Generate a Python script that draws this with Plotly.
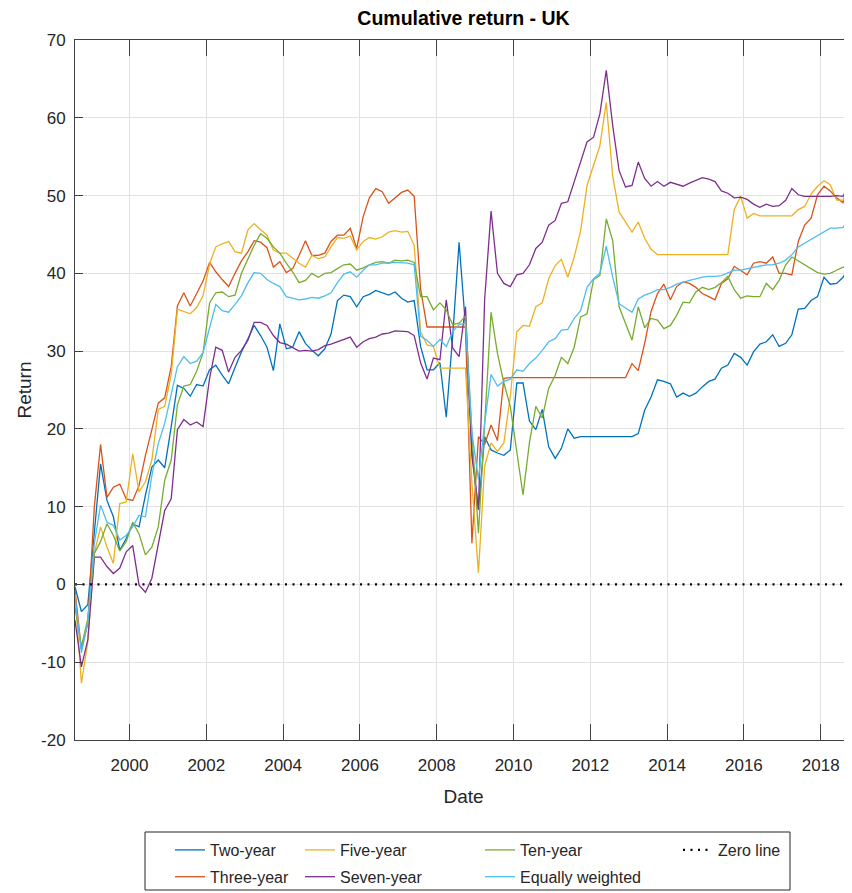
import pandas as pd
import plotly.graph_objects as go

# ---------------- data (bi-monthly readings, Aug 1998 .. Oct 2018) ----------------
dates = pd.date_range("1998-08-01", "2018-10-01", freq="2MS")

two_year = [
    -0.3, -3.5, -2.6,
    6.5, 15.5, 10.8, 8.7, 4.4, 5.9,
    7.8, 7.4, 11.5, 15.1, 16.0, 15.0,
    20.3, 25.6, 25.2, 24.2, 25.7, 25.5,
    27.6, 28.2, 26.9, 25.8, 27.9, 29.9,
    31.6, 33.3, 32.0, 30.5, 27.5, 33.5,
    30.3, 30.5, 32.5, 31.0, 30.1, 29.4,
    30.3, 32.2, 36.5, 37.2, 37.0, 35.7,
    37.0, 37.3, 37.8, 37.5, 37.2, 37.6,
    36.8, 36.3, 36.5, 30.6, 27.6, 27.6,
    28.5, 21.5, 31.9, 44.0, 33.2, 17.3,
    9.6, 19.0, 17.3, 16.9, 16.6, 17.3,
    25.9, 25.9, 21.0, 19.9, 22.5, 17.7,
    16.2, 17.5, 20.0, 18.8, 19.0, 19.0,
    19.0, 19.0, 19.0, 19.0, 19.0, 19.0,
    19.0, 19.4, 22.4, 24.1, 26.3, 26.1,
    25.8, 24.1, 24.6, 24.2, 24.6, 25.4,
    26.1, 26.4, 27.8, 28.2, 29.7, 29.2,
    28.2, 29.9, 30.9, 31.2, 32.1, 30.6,
    31.0, 32.1, 35.4, 35.5, 36.5, 37.0,
    39.5, 38.6, 38.7, 39.5, 40.9,
]

three_year = [
    -0.7, -8.4, -5.0,
    10.0, 18.0, 11.2, 12.5, 12.9, 11.0,
    10.8, 12.7, 16.6, 19.9, 23.3, 24.0,
    28.0, 35.8, 37.5, 35.8, 37.3, 39.0,
    41.4, 40.2, 39.2, 38.3, 40.0, 41.6,
    42.8, 44.2, 44.0, 43.3, 40.8, 41.5,
    40.1, 40.6, 42.3, 44.2, 42.3, 42.3,
    42.6, 44.1, 44.9, 44.9, 45.8, 43.2,
    47.3, 49.7, 50.9, 50.5, 49.0, 49.7,
    50.4, 50.7, 49.9, 38.0, 33.1, 33.1,
    33.1, 33.1, 33.1, 33.1, 33.1, 5.3,
    19.0, 18.0, 20.5, 18.5, 26.5, 26.6,
    26.6, 26.6, 26.6, 26.6, 26.6, 26.6,
    26.6, 26.6, 26.6, 26.6, 26.6, 26.6,
    26.6, 26.6, 26.6, 26.6, 26.6, 26.6,
    28.4, 27.5, 31.0, 35.1, 37.4, 38.6,
    36.6, 38.3, 38.9, 38.7, 38.2, 37.4,
    37.0, 36.6, 38.7, 39.3, 40.9, 40.4,
    39.8, 41.3, 41.5, 41.3, 42.1, 40.0,
    40.0, 39.8, 44.1, 46.2, 47.1, 50.1,
    51.2, 50.6, 49.7, 49.1, 52.2,
]

five_year = [
    -1.2, -12.7, -7.4,
    4.0, 7.4, 4.8, 2.7, 10.4, 10.6,
    16.8, 11.9, 13.2, 16.0, 22.5, 22.9,
    27.0, 35.4, 35.1, 34.8, 35.6, 37.1,
    41.2, 43.4, 43.8, 44.1, 42.8, 42.6,
    45.6, 46.4, 45.6, 44.9, 43.0, 42.6,
    42.6, 41.9, 41.3, 40.8, 42.3, 41.9,
    42.1, 43.4, 44.6, 44.5, 44.8, 43.0,
    44.1, 44.6, 44.4, 44.7, 45.3, 45.5,
    45.3, 45.4, 43.6, 32.5, 30.8, 30.6,
    27.8, 27.8, 27.8, 27.8, 27.8, 13.0,
    1.5, 15.2, 18.2, 17.1, 18.2, 24.2,
    32.5, 33.3, 33.2, 35.7, 36.2, 39.3,
    41.0, 41.8, 39.5, 42.1, 45.5, 51.3,
    53.9, 56.4, 62.0, 52.5, 47.9, 46.6,
    45.3, 46.6, 44.5, 43.1, 42.4, 42.4,
    42.4, 42.4, 42.4, 42.4, 42.4, 42.4,
    42.4, 42.4, 42.4, 42.4, 48.2, 49.9,
    47.1, 47.7, 47.4, 47.4, 47.4, 47.4,
    47.4, 47.4, 48.2, 48.6, 50.2, 51.2,
    51.9, 51.4, 49.4, 49.4, 51.8,
]

seven_year = [
    -4.6, -10.6, -7.1,
    3.5, 3.5, 2.3, 1.4, 2.1, 4.2,
    5.0, -0.1, -1.0, 0.8, 5.3, 9.5,
    11.0, 19.9, 21.2, 20.5, 20.9, 20.3,
    26.5, 30.5, 30.1, 27.3, 29.2, 30.1,
    31.4, 33.7, 33.7, 33.3, 32.0, 31.1,
    30.9, 30.4, 30.0, 30.1, 30.0, 30.2,
    30.7, 30.9, 31.2, 31.5, 31.8, 30.5,
    31.2, 31.6, 31.8, 32.2, 32.3, 32.6,
    32.5, 32.5, 32.0, 28.5, 26.4, 29.1,
    28.9, 36.6, 30.4, 29.3, 35.7, 16.5,
    9.6, 36.6, 48.0, 40.0, 38.7, 38.3,
    39.8, 40.0, 41.1, 43.2, 44.0, 46.2,
    46.8, 49.0, 49.2, 51.7, 54.1, 56.9,
    57.5, 60.5, 66.1, 59.0, 53.2, 51.1,
    51.3, 54.3, 52.2, 51.2, 51.8, 51.2,
    51.7, 51.5, 51.2, 51.6, 51.9, 52.3,
    52.1, 51.8, 50.6, 50.3, 49.7, 49.8,
    49.5, 48.9, 48.5, 48.9, 48.6, 48.7,
    49.4, 50.9, 50.1, 49.9, 49.9, 49.9,
    49.9, 49.9, 50.0, 49.9, 51.6,
]

ten_year = [
    -2.9, -8.0, -4.4,
    4.0, 5.5, 7.8, 6.3, 4.3, 5.5,
    8.0, 6.5, 3.8, 4.8, 7.4, 13.4,
    16.0, 23.1, 25.5, 25.7, 27.4, 29.8,
    36.2, 37.5, 37.6, 37.0, 37.2, 40.0,
    41.9, 43.6, 45.1, 44.5, 43.4, 42.6,
    41.3, 40.2, 38.8, 39.1, 40.0, 39.5,
    40.0, 40.1, 40.6, 41.1, 41.2, 40.4,
    40.7, 41.1, 41.4, 41.5, 41.3, 41.7,
    41.6, 41.7, 41.4, 37.0, 37.0, 35.3,
    36.2, 35.3, 33.4, 33.6, 34.5, 19.5,
    6.6, 19.9, 35.0, 29.7, 25.9, 22.9,
    17.3, 11.5, 18.2, 22.9, 21.4, 25.2,
    26.9, 29.2, 28.4, 30.5, 34.4, 34.8,
    39.2, 39.7, 47.0, 44.2, 35.7, 33.5,
    31.4, 35.7, 33.0, 34.2, 34.0, 32.9,
    33.3, 34.6, 36.3, 36.2, 37.6, 38.2,
    37.9, 38.2, 38.8, 39.6, 37.9, 36.8,
    37.1, 37.0, 37.0, 38.7, 37.9, 39.1,
    41.1, 42.1, 41.6, 41.0, 40.6, 40.1,
    39.9, 40.0, 40.4, 40.8, 40.9,
]

equally_weighted = [
    -1.6, -8.8, -4.8,
    5.3, 10.2, 8.0, 7.6, 5.7, 6.3,
    7.4, 8.9, 8.7, 14.0, 18.1, 20.7,
    24.4, 28.0, 29.3, 28.4, 28.7, 29.8,
    33.0, 36.0, 35.2, 35.0, 36.0, 37.1,
    38.8, 40.1, 40.0, 39.2, 38.7, 38.3,
    37.0, 36.8, 36.6, 36.7, 36.9, 36.8,
    37.1, 37.5, 38.8, 39.9, 40.2, 39.5,
    40.4, 41.1, 41.1, 41.3, 41.3, 41.4,
    41.3, 41.3, 41.1, 31.9, 31.4, 30.6,
    31.5, 30.6, 32.5, 33.4, 33.6, 19.5,
    13.5, 20.7, 27.0, 25.5, 26.1, 26.4,
    27.6, 27.4, 28.4, 29.1, 30.1, 31.2,
    31.6, 32.7, 32.8, 34.2, 35.2, 38.2,
    39.3, 40.0, 43.5, 39.5, 36.1, 35.5,
    35.0, 36.7, 37.2, 37.5, 37.9, 37.9,
    38.2, 38.6, 38.9, 39.1, 39.3, 39.5,
    39.6, 39.6, 39.7, 40.0, 40.4, 40.4,
    40.6, 40.8, 41.0, 41.1, 41.1, 41.3,
    41.7, 42.4, 43.4, 43.9, 44.4, 44.9,
    45.3, 45.8, 45.8, 45.9, 47.2,
]

zero_line = [0.0] * len(dates)

series_names = ["Two-year", "Three-year", "Five-year", "Seven-year",
                "Ten-year", "Equally weighted"]
series_values = [two_year, three_year, five_year, seven_year,
                 ten_year, equally_weighted]
series_colors = ["#0072BD", "#D95319", "#EDB120", "#7E2F8E", "#77AC30", "#4DBEEE"]
series_legends = ["legend", "legend", "legend2", "legend2", "legend3", "legend3"]

year_ticks = [f"{y}-01-01" for y in range(2000, 2019, 2)]
year_labels = [str(y) for y in range(2000, 2019, 2)]
return_ticks = list(range(-20, 71, 10))
return_labels = [str(v) for v in return_ticks]

# ---------------- figure ----------------
FONT = "Liberation Sans, Arial, Helvetica, sans-serif"
TXT = "#262626"

fig = go.Figure()
for name, vals, col, lg in zip(series_names, series_values, series_colors, series_legends):
    assert len(vals) == len(dates), (name, len(vals))
    fig.add_trace(go.Scatter(x=dates, y=vals, mode="lines", name=name,
                             legendgroup=name,
                             line=dict(color=col, width=1.3), legend=lg))
fig.add_trace(go.Scatter(x=dates, y=zero_line, mode="lines", name="Zero line",
                         legendgroup="Zero line",
                         line=dict(color="black", width=2.2, dash="2px,5.5px"),
                         legend="legend4"))

# page body adds an 8px offset; figure sized so the page fills 852x893
OFF = 8
W, H = 852 - OFF, 893 - OFF
L, R, T = 75 - OFF, 0, 40 - OFF
B = H - (740 - OFF)
pw, ph = W - L - R, H - T - B


def px(xscreen):
    return (xscreen - OFF - L) / pw


def py(yscreen):
    return (H - B - (yscreen - OFF)) / ph


leg_common = dict(orientation="v", xanchor="left", yanchor="top",
                  bgcolor="rgba(0,0,0,0)", borderwidth=0,
                  font=dict(family=FONT, size=16, color=TXT),
                  itemwidth=30, tracegroupgap=3)

LEG_TOP = 833
fig.update_layout(
    width=W, height=H,
    margin=dict(l=L, r=R, t=T, b=B, pad=0, autoexpand=False),
    paper_bgcolor="white", plot_bgcolor="white",
    font=dict(family=FONT, color=TXT, size=16),
    title=dict(text="<b>Cumulative return - UK</b>", x=0.5, xref="paper",
               y=1 - (18 - OFF) / H, yref="container", xanchor="center", yanchor="middle",
               font=dict(family=FONT, size=19.5, color="black")),
    showlegend=True,
    legend=dict(x=px(170), y=py(LEG_TOP), **leg_common),
    legend2=dict(x=px(300), y=py(LEG_TOP), **leg_common),
    legend3=dict(x=px(480), y=py(LEG_TOP), **leg_common),
    legend4=dict(x=px(678), y=py(LEG_TOP), **leg_common),
    shapes=[dict(type="rect", xref="paper", yref="paper",
                 x0=px(145), x1=px(790), y0=py(890), y1=py(832),
                 line=dict(color="#262626", width=1), fillcolor="white", layer="below")],
)

fig.update_xaxes(
    type="date", range=["1998-08-01", "2018-10-25"], automargin=False,
    tickvals=year_ticks, ticktext=year_labels,
    ticks="inside", ticklen=16, tickwidth=1, tickcolor="#404040",
    showline=True, linecolor="#404040", linewidth=1, mirror="ticks",
    showgrid=True, gridcolor="#e2e2e2", gridwidth=1, zeroline=False,
    tickfont=dict(family=FONT, size=17, color=TXT), ticklabelstandoff=10,
    title=dict(text="Date", font=dict(family=FONT, size=19, color=TXT), standoff=15),
)
fig.update_yaxes(
    range=[-20, 70], automargin=False,
    tickvals=return_ticks, ticktext=return_labels,
    ticks="inside", ticklen=8, tickwidth=1, tickcolor="#404040",
    showline=True, linecolor="#404040", linewidth=1, mirror=False,
    showgrid=True, gridcolor="#e2e2e2", gridwidth=1, zeroline=False,
    tickfont=dict(family=FONT, size=17, color=TXT), ticklabelstandoff=5,
    title=dict(text="Return", font=dict(family=FONT, size=19, color=TXT), standoff=4),
)

fig.write_html("out.html")
